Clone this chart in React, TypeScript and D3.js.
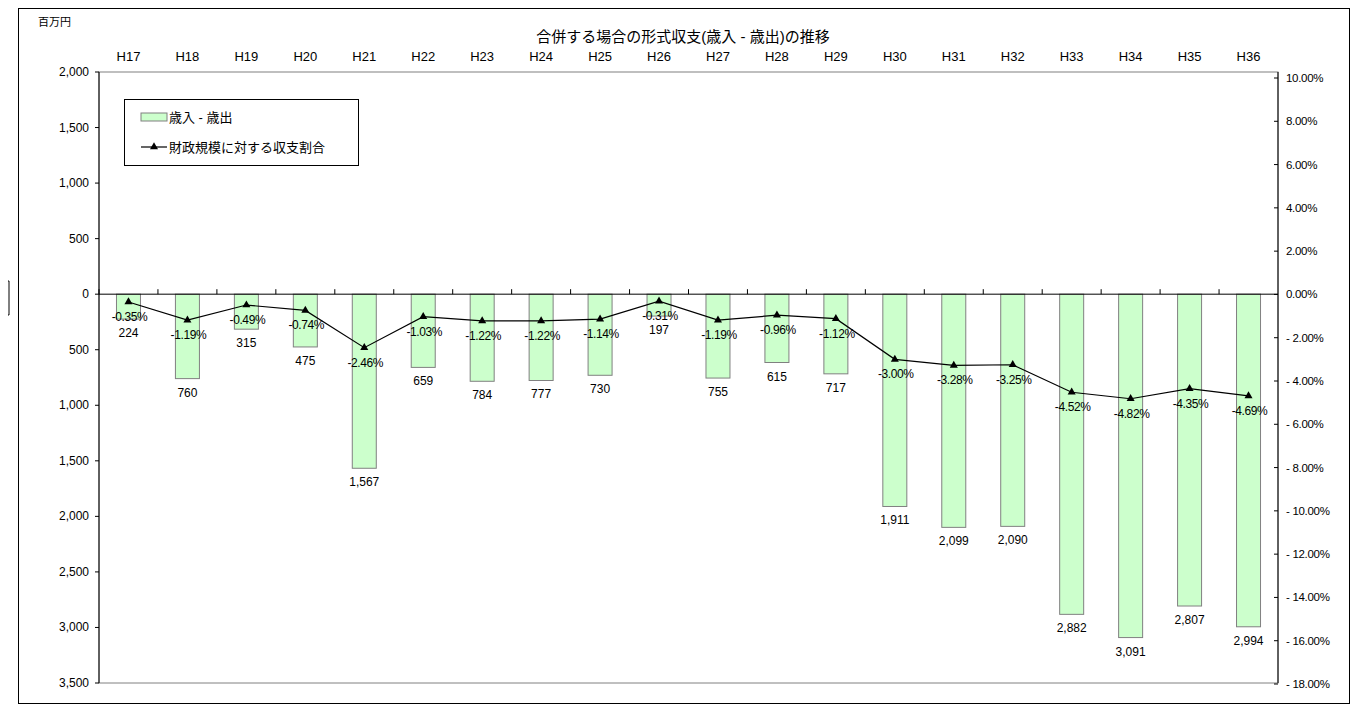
import React, { useEffect, useRef } from 'react';
import * as d3 from 'd3';

const years = ['H17', 'H18', 'H19', 'H20', 'H21', 'H22', 'H23', 'H24', 'H25', 'H26', 'H27', 'H28', 'H29', 'H30', 'H31', 'H32', 'H33', 'H34', 'H35', 'H36'];
// 歳入 - 歳出 (deficit, shown downward)
const balance = [224, 760, 315, 475, 1567, 659, 784, 777, 730, 197, 755, 615, 717, 1911, 2099, 2090, 2882, 3091, 2807, 2994];
const ratio = [-0.35, -1.19, -0.49, -0.74, -2.46, -1.03, -1.22, -1.22, -1.14, -0.31, -1.19, -0.96, -1.12, -3.0, -3.28, -3.25, -4.52, -4.82, -4.35, -4.69];
const leftTicks = [2000, 1500, 1000, 500, 0, -500, -1000, -1500, -2000, -2500, -3000, -3500];
const rightTicks = [10, 8, 6, 4, 2, 0, -2, -4, -6, -8, -10, -12, -14, -16, -18];

const FONT = '"Liberation Sans", Arial, "Noto Sans CJK JP", sans-serif';

const App: React.FC = () => {
  const ref = useRef<SVGSVGElement>(null);

  useEffect(() => {
    if (!ref.current) return;
    const svg = d3.select(ref.current);
    svg.selectAll('*').remove();
    svg.style('font-family', FONT);

    const L = 99, R = 1278, T = 72, B = 683;
    const x = d3.scaleBand().domain(years).range([L, R]).padding(0);
    const y = d3.scaleLinear().domain([-3500, 2000]).range([B, T]);
    const y2 = d3.scaleLinear().domain([-18, 10]).range([684, 78]);
    const bw = 24;
    const cx = (i: number) => (x(years[i]) ?? 0) + x.bandwidth() / 2;

    // outer frame
    svg.append('rect').attr('x', 18.5).attr('y', 8.5).attr('width', 1331).attr('height', 695)
      .attr('fill', 'white').attr('stroke', 'black').attr('stroke-width', 1);
    svg.append('path').attr('d', 'M0,281 H9 V315 H0').attr('fill', 'none').attr('stroke', 'black');

    // plot frame
    svg.append('rect').attr('x', L).attr('y', T).attr('width', R - L).attr('height', B - T)
      .attr('fill', 'none').attr('stroke', '#808080');

    // left axis
    svg.append('line').attr('x1', L).attr('x2', L).attr('y1', T).attr('y2', B).attr('stroke', 'black');
    leftTicks.forEach(v => {
      svg.append('line').attr('x1', L - 4).attr('x2', L).attr('y1', y(v)).attr('y2', y(v)).attr('stroke', 'black');
      svg.append('text').attr('x', L - 10).attr('y', y(v) + 4).attr('text-anchor', 'end')
        .attr('font-size', 12).text(d3.format(',')(Math.abs(v)));
    });

    // right axis
    svg.append('line').attr('x1', R).attr('x2', R).attr('y1', T).attr('y2', B).attr('stroke', 'black');
    rightTicks.forEach(v => {
      svg.append('line').attr('x1', R - 4).attr('x2', R).attr('y1', y2(v)).attr('y2', y2(v)).attr('stroke', 'black');
      svg.append('text').attr('x', R + 8).attr('y', y2(v) + 4).attr('font-size', 11.5).attr('letter-spacing', '-0.3')
        .text((v < 0 ? '- ' + (-v).toFixed(2) : v.toFixed(2)) + '%');
    });

    // bars
    balance.forEach((v, i) => {
      svg.append('rect').attr('x', cx(i) - bw / 2).attr('y', y(0)).attr('width', bw)
        .attr('height', y(-v) - y(0)).attr('fill', '#ccffcc').attr('stroke', '#808080');
    });

    // zero line with category ticks
    svg.append('line').attr('x1', L).attr('x2', R).attr('y1', y(0)).attr('y2', y(0)).attr('stroke', 'black');
    years.forEach(yr => {
      const xx = x(yr) ?? 0;
      svg.append('line').attr('x1', xx).attr('x2', xx).attr('y1', y(0) - 5).attr('y2', y(0)).attr('stroke', 'black');
    });

    // category labels at top
    years.forEach((yr, i) => {
      svg.append('text').attr('x', cx(i)).attr('y', 61).attr('text-anchor', 'middle').attr('font-size', 13).text(yr);
    });

    // ratio line
    const line = d3.line<number>().x((_, i) => cx(i)).y(d => y2(d));
    svg.append('path').datum(ratio).attr('d', line).attr('fill', 'none').attr('stroke', 'black').attr('stroke-width', 1.2);
    const tri = d3.symbol().type(d3.symbolTriangle).size(28);
    ratio.forEach((v, i) => {
      svg.append('path').attr('d', tri).attr('transform', `translate(${cx(i)},${y2(v)})`).attr('fill', 'black');
    });

    // labels
    balance.forEach((v, i) => {
      svg.append('text').attr('x', cx(i)).attr('y', y(-v) + 18).attr('text-anchor', 'middle')
        .attr('font-size', 12).text(d3.format(',')(v));
    });
    ratio.forEach((v, i) => {
      svg.append('text').attr('x', cx(i) + 1).attr('y', y2(v) + 19).attr('text-anchor', 'middle')
        .attr('font-size', 12).attr('letter-spacing', '-0.4').text('-' + (-v).toFixed(2) + '%');
    });

    // title & unit
    svg.append('text').attr('x', 683).attr('y', 42).attr('text-anchor', 'middle').attr('font-size', 15)
      .text('合併する場合の形式収支(歳入 - 歳出)の推移');
    svg.append('text').attr('x', 38).attr('y', 26).attr('font-size', 11).text('百万円');

    // legend
    const lg = svg.append('g');
    lg.append('rect').attr('x', 124.5).attr('y', 99.5).attr('width', 234).attr('height', 66)
      .attr('fill', 'white').attr('stroke', 'black');
    lg.append('rect').attr('x', 141).attr('y', 113).attr('width', 26).attr('height', 8)
      .attr('fill', '#ccffcc').attr('stroke', '#808080');
    lg.append('text').attr('x', 169).attr('y', 122).attr('font-size', 13).text('歳入 - 歳出');
    lg.append('line').attr('x1', 141).attr('x2', 167).attr('y1', 147).attr('y2', 147).attr('stroke', 'black').attr('stroke-width', 1.2);
    lg.append('path').attr('d', tri).attr('transform', 'translate(154,147)').attr('fill', 'black');
    lg.append('text').attr('x', 169).attr('y', 152).attr('font-size', 13).text('財政規模に対する収支割合');
  }, []);

  return <svg ref={ref} width={1352} height={709} style={{ display: 'block', marginLeft: -8, marginTop: -8 }} />;
};

export default App;
